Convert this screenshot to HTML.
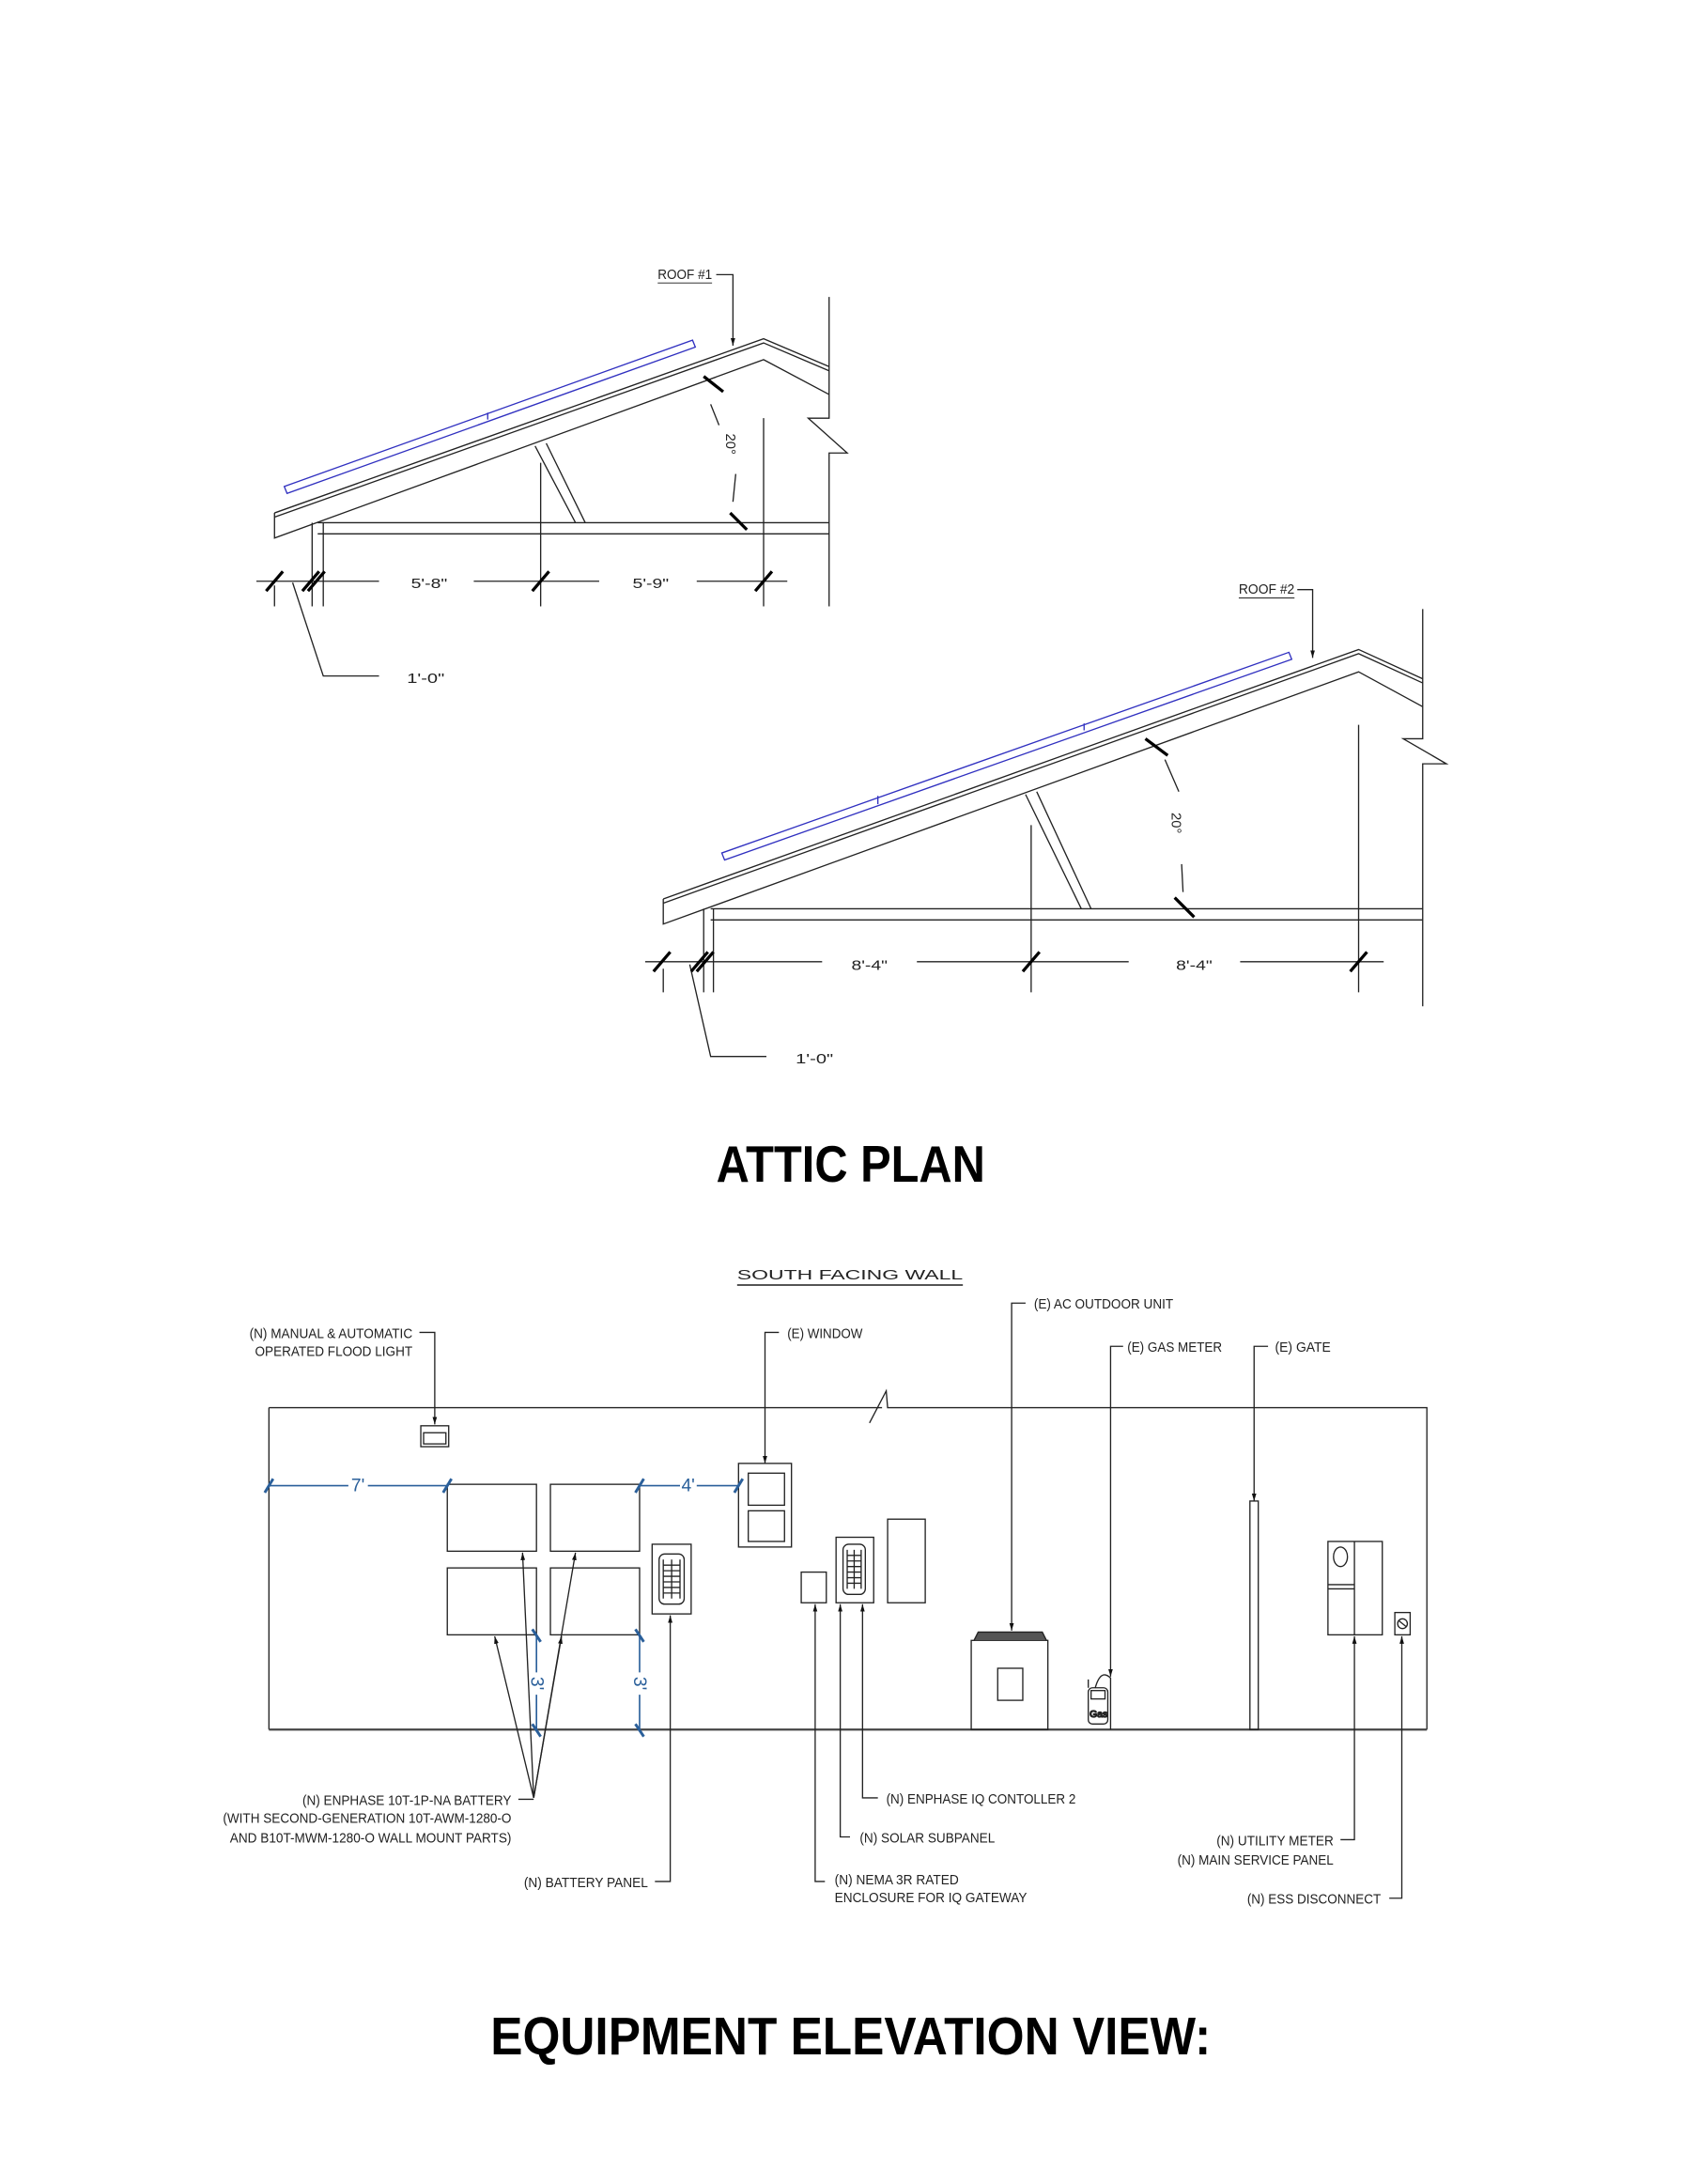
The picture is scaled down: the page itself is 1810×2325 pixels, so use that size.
<!DOCTYPE html>
<html><head><meta charset="utf-8"><style>
html,body{margin:0;padding:0;background:#fff}
svg{display:block}
text{font-family:"Liberation Sans Narrow","Liberation Sans",sans-serif;fill:#222}
.t{font-size:10px}
.b{font-family:"Liberation Sans",sans-serif;font-weight:bold;fill:#000}
</style></head><body>
<svg width="1810" height="2325" viewBox="0 0 1220 1567" xmlns="http://www.w3.org/2000/svg">
<defs>
<marker id="ar" viewBox="0 0 10 10" refX="10" refY="5" markerWidth="6" markerHeight="8" orient="auto"><path d="M0,2 L10,5 L0,8 z" fill="#111"/></marker>
</defs>
<g fill="none" stroke="#222" stroke-width="0.9">
<!-- ROOF 1 -->
<path d="M197,368 L548,243 L595,263 M197,371 L548,246 L595,266 M197,368 V386 L548,258 L595,283"/>
<path d="M228,375 H595 M228,383 H595 M224,375 V435 M232,375 V435"/>
<path d="M384,320 L413,375 M392,318 L420,375"/>
<path d="M595,213 V300 H580 L608,325 H595 V435"/>
<path d="M548,300 V435 M388,332 V435 M197,420 V435"/>
<path d="M184,417 H272 M340,417 H430 M500,417 H565"/>
<path d="M210,418 L232,485 H272"/>
<path d="M514,197 H526 V248" marker-end="url(#ar)"/>
<path d="M510,290 L516,305 M528,340 L526,360"/>
<g stroke="#000" stroke-width="2.2"><path d="M191,424 L203,410 M217,424 L229,410 M221,424 L233,410 M382,424 L394,410 M542,424 L554,410 M505,270 L519,281 M524,368 L536,380"/></g>
<!-- ROOF 2 -->
<path d="M476,645 L975,466 L1021,487 M476,648 L975,469 L1021,490 M476,645 V663 L975,482 L1021,507"/>
<path d="M510,652 H1021 M510,660 H1021 M505,652 V712 M512,652 V712"/>
<path d="M736,570 L776,652 M744,568 L783,652"/>
<path d="M1021,437 V530 H1007 L1038,548 H1021 V722"/>
<path d="M975,520 V712 M740,592 V712 M476,695 V712"/>
<path d="M463,690 H590 M658,690 H810 M890,690 H993"/>
<path d="M495,692 L510,758 H550"/>
<path d="M931,423 H942 V472" marker-end="url(#ar)"/>
<path d="M836,545 L846,568 M848,620 L849,640"/>
<g stroke="#000" stroke-width="2.2"><path d="M469,697 L481,683 M496,697 L508,683 M500,697 L512,683 M734,697 L746,683 M969,697 L981,683 M822,530 L838,542 M843,644 L857,658"/></g>
</g>
<!-- blue panels -->
<g fill="none" stroke="#3030c0" stroke-width="0.9">
<path d="M204,349 L497,244 L499,249 L206,354 Z M350,296 V301"/>
<path d="M518,612 L925,468 L927,473 L520,617 Z M630,571 V577 M778,519 V524"/>
</g>
<text class="t" x="472" y="200" font-size="9" textLength="39" lengthAdjust="spacingAndGlyphs">ROOF #1</text>
<path d="M472,203 H511" stroke="#333" stroke-width="0.7"/>
<text class="t" x="889" y="426" font-size="9" textLength="40" lengthAdjust="spacingAndGlyphs">ROOF #2</text>
<path d="M889,429 H929" stroke="#333" stroke-width="0.7"/>
<text class="t" x="295" y="422" font-size="14" textLength="26" lengthAdjust="spacingAndGlyphs">5'-8"</text>
<text class="t" x="454" y="422" font-size="14" textLength="26" lengthAdjust="spacingAndGlyphs">5'-9"</text>
<text class="t" x="292" y="490" font-size="14" textLength="27" lengthAdjust="spacingAndGlyphs">1'-0"</text>
<text class="t" x="611" y="696" font-size="14" textLength="26" lengthAdjust="spacingAndGlyphs">8'-4"</text>
<text class="t" x="844" y="696" font-size="14" textLength="26" lengthAdjust="spacingAndGlyphs">8'-4"</text>
<text class="t" x="571" y="763" font-size="14" textLength="27" lengthAdjust="spacingAndGlyphs">1'-0"</text>
<text class="t" font-size="13" transform="translate(521,311) rotate(90)">20°</text>
<text class="t" font-size="13" transform="translate(841,583) rotate(90)">20°</text>
<text class="b" x="514" y="848" font-size="37" textLength="193" lengthAdjust="spacingAndGlyphs">ATTIC PLAN</text>

<!-- ELEVATION -->
<text class="t" x="529" y="918" font-size="18" textLength="162" lengthAdjust="spacingAndGlyphs">SOUTH FACING WALL</text>
<path d="M529,922 H691" stroke="#555" stroke-width="1.3"/>
<g fill="none" stroke="#222" stroke-width="0.9">
<path d="M193,1010 H633 M624,1021 L636,998 L637,1010 H1024 V1241 M193,1010 V1241"/>
<path d="M193,1241 H1024" stroke="#444" stroke-width="1.6"/>
<rect x="302" y="1023" width="20" height="15"/><rect x="304" y="1028" width="16" height="8"/>
<rect x="321" y="1065" width="64" height="48"/><rect x="395" y="1065" width="64" height="48"/>
<rect x="321" y="1125" width="64" height="48"/><rect x="395" y="1125" width="64" height="48"/>
<rect x="468" y="1108" width="28" height="50"/><rect x="473" y="1115" width="18" height="36" rx="4"/>
<path d="M476,1119 V1147 M488,1119 V1147 M482,1119 V1147 M476,1123 H488 M476,1127 H488 M476,1131 H488 M476,1135 H488 M476,1139 H488 M476,1143 H488"/>
<rect x="530" y="1050" width="38" height="60"/><rect x="537" y="1057" width="26" height="23"/><rect x="537" y="1084" width="26" height="22"/>
<rect x="575" y="1128" width="18" height="22"/>
<rect x="600" y="1103" width="27" height="47"/><rect x="605" y="1108" width="16" height="36" rx="4"/>
<path d="M608,1112 V1140 M618,1112 V1140 M613,1112 V1140 M608,1116 H618 M608,1120 H618 M608,1124 H618 M608,1128 H618 M608,1132 H618 M608,1136 H618"/>
<rect x="637" y="1090" width="27" height="60"/>
<rect x="697" y="1177" width="55" height="64"/><rect x="716" y="1197" width="18" height="23"/>
<path d="M699,1177 L702,1171 H748 L751,1177" fill="#555"/>
<rect x="781" y="1211" width="14" height="26" rx="3"/><rect x="783" y="1213" width="10" height="6"/>
<path d="M786,1211 Q790,1197 797,1204 V1241 M781,1205 V1211"/>
<text x="782" y="1232" font-size="7" font-family="Liberation Serif">Gas</text>
<rect x="897" y="1077" width="6" height="164"/>
<rect x="953" y="1106" width="39" height="67"/><path d="M972,1106 V1173 M953,1137 H972 M953,1140 H972"/>
<ellipse cx="962" cy="1117" rx="5" ry="7"/>
<rect x="1001" y="1157" width="11" height="16"/><circle cx="1006.5" cy="1165" r="3.5"/><path d="M1004,1163 L1009,1167"/>
<!-- leaders -->
<path d="M301,956 H312 V1022" marker-end="url(#ar)"/>
<path d="M559,956 H549 V1050" marker-end="url(#ar)"/>
<path d="M736,935 H726 V1170" marker-end="url(#ar)"/>
<path d="M806,966 H797 V1203" marker-end="url(#ar)"/>
<path d="M910,966 H900 V1077" marker-end="url(#ar)"/>
<path d="M383,1290 L375,1114" marker-end="url(#ar)"/>
<path d="M383,1290 L413,1114" marker-end="url(#ar)"/>
<path d="M383,1290 L355,1174" marker-end="url(#ar)"/>
<path d="M383,1290 L403,1174" marker-end="url(#ar)"/>
<path d="M372,1291 H383"/>
<path d="M470,1350 H481 V1159" marker-end="url(#ar)"/>
<path d="M592,1350 H585 V1151" marker-end="url(#ar)"/>
<path d="M610,1318 H603 V1151" marker-end="url(#ar)"/>
<path d="M630,1290 H619 V1151" marker-end="url(#ar)"/>
<path d="M962,1320 H972 V1174" marker-end="url(#ar)"/>
<path d="M997,1362 H1006 V1174" marker-end="url(#ar)"/>
</g>
<!-- blue dims -->
<g fill="none" stroke="#2a5f9a" stroke-width="1.1">
<path d="M193,1066 H250 M264,1066 H321 M459,1066 H488 M500,1066 H530"/>
<path d="M385,1173 V1200 M385,1216 V1241 M459,1173 V1200 M459,1216 V1241"/>
<g stroke-width="2"><path d="M190,1071 L196,1061 M318,1071 L324,1061 M456,1071 L462,1061 M527,1071 L533,1061 M382,1169 L388,1178 M382,1237 L388,1246 M456,1169 L462,1178 M456,1237 L462,1246"/></g>
</g>
<text x="252" y="1070" font-size="13" style="fill:#2a5f9a">7'</text>
<text x="489" y="1070" font-size="13" style="fill:#2a5f9a">4'</text>
<text font-size="13" style="fill:#2a5f9a" transform="translate(381,1203) rotate(90)">3'</text>
<text font-size="13" style="fill:#2a5f9a" transform="translate(455,1203) rotate(90)">3'</text>
<g class="t" font-size="10" lengthAdjust="spacingAndGlyphs">
<text x="296" y="960" text-anchor="end" textLength="117" lengthAdjust="spacingAndGlyphs">(N) MANUAL &amp; AUTOMATIC</text>
<text x="296" y="973" text-anchor="end" textLength="113" lengthAdjust="spacingAndGlyphs">OPERATED FLOOD LIGHT</text>
<text x="565" y="960" textLength="54" lengthAdjust="spacingAndGlyphs">(E) WINDOW</text>
<text x="742" y="939" textLength="100" lengthAdjust="spacingAndGlyphs">(E) AC OUTDOOR UNIT</text>
<text x="809" y="970" textLength="68" lengthAdjust="spacingAndGlyphs">(E) GAS METER</text>
<text x="915" y="970" textLength="40" lengthAdjust="spacingAndGlyphs">(E) GATE</text>
<text x="367" y="1295" text-anchor="end" textLength="150" lengthAdjust="spacingAndGlyphs">(N) ENPHASE 10T-1P-NA BATTERY</text>
<text x="367" y="1308" text-anchor="end" textLength="207" lengthAdjust="spacingAndGlyphs">(WITH SECOND-GENERATION 10T-AWM-1280-O</text>
<text x="367" y="1322" text-anchor="end" textLength="202" lengthAdjust="spacingAndGlyphs">AND B10T-MWM-1280-O WALL MOUNT PARTS)</text>
<text x="465" y="1354" text-anchor="end" textLength="89" lengthAdjust="spacingAndGlyphs">(N) BATTERY PANEL</text>
<text x="599" y="1352" textLength="89" lengthAdjust="spacingAndGlyphs">(N) NEMA 3R RATED</text>
<text x="599" y="1365" textLength="138" lengthAdjust="spacingAndGlyphs">ENCLOSURE FOR IQ GATEWAY</text>
<text x="617" y="1322" textLength="97" lengthAdjust="spacingAndGlyphs">(N) SOLAR SUBPANEL</text>
<text x="636" y="1294" textLength="136" lengthAdjust="spacingAndGlyphs">(N) ENPHASE IQ CONTOLLER 2</text>
<text x="957" y="1324" text-anchor="end" textLength="84" lengthAdjust="spacingAndGlyphs">(N) UTILITY METER</text>
<text x="957" y="1338" text-anchor="end" textLength="112" lengthAdjust="spacingAndGlyphs">(N) MAIN SERVICE PANEL</text>
<text x="991" y="1366" text-anchor="end" textLength="96" lengthAdjust="spacingAndGlyphs">(N) ESS DISCONNECT</text>
</g>
<text class="b" x="352" y="1474" font-size="38" textLength="517" lengthAdjust="spacingAndGlyphs">EQUIPMENT ELEVATION VIEW:</text>
</svg>
</body></html>
